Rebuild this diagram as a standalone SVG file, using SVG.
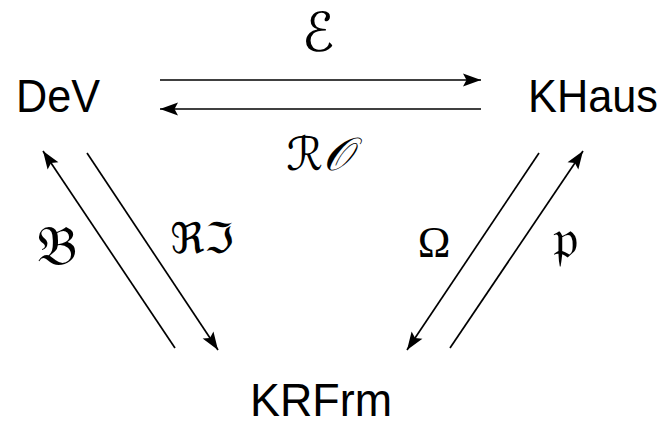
<svg xmlns="http://www.w3.org/2000/svg" width="666" height="426" viewBox="0 0 666 426">
<style>
.node{font-family:"Liberation Sans","DejaVu Sans",sans-serif;font-size:46px;fill:#000}
.lbl{font-family:"DejaVu Serif","DejaVu Sans","Noto Sans",serif;fill:#000}
.c line{stroke:#000;stroke-width:1.7;fill:none}
</style>
<defs>
<marker id="ah" markerUnits="userSpaceOnUse" markerWidth="24" markerHeight="16" viewBox="-20 -8 22 16" refX="0" refY="0" orient="auto">
<path d="M0,0 L-18,-6.5 L-14.5,0 L-18,6.5 Z" fill="#000"/>
</marker>
</defs>
<rect width="666" height="426" fill="#fff"/>
<g id="DeV"><text class="node" x="16" y="112" textLength="84" lengthAdjust="spacingAndGlyphs">DeV</text></g>
<g id="KHaus"><text class="node" x="528" y="112" textLength="130" lengthAdjust="spacingAndGlyphs">KHaus</text></g>
<g id="KRFrm"><text class="node" x="250" y="416" textLength="142" lengthAdjust="spacingAndGlyphs">KRFrm</text></g>
<g class="c" id="connectors">
<line x1="160" y1="80" x2="481" y2="80" marker-end="url(#ah)"/>
<line x1="481" y1="109" x2="160" y2="109" marker-end="url(#ah)"/>
<line x1="175" y1="348" x2="43" y2="151" marker-end="url(#ah)"/>
<line x1="87" y1="153" x2="218" y2="350" marker-end="url(#ah)"/>
<line x1="539" y1="153" x2="407" y2="350" marker-end="url(#ah)"/>
<line x1="450" y1="348" x2="583" y2="151" marker-end="url(#ah)"/>
</g>
<g id="labels">
<text class="lbl" x="318" y="51" font-size="54" text-anchor="middle" font-style="italic">ℰ</text>
<text class="lbl" x="319" y="170" font-size="46" text-anchor="middle" font-style="italic">ℛ𝒪</text>
<text class="lbl" x="57" y="265" font-size="56" text-anchor="middle">𝔅</text>
<text class="lbl" x="202" y="253" font-size="42" text-anchor="middle">ℜℑ</text>
<text x="434" y="257" font-size="44" text-anchor="middle" font-family="Liberation Serif, serif">Ω</text>
<text class="lbl" x="565" y="258" font-size="56" text-anchor="middle">𝔭</text>
</g>
</svg>
